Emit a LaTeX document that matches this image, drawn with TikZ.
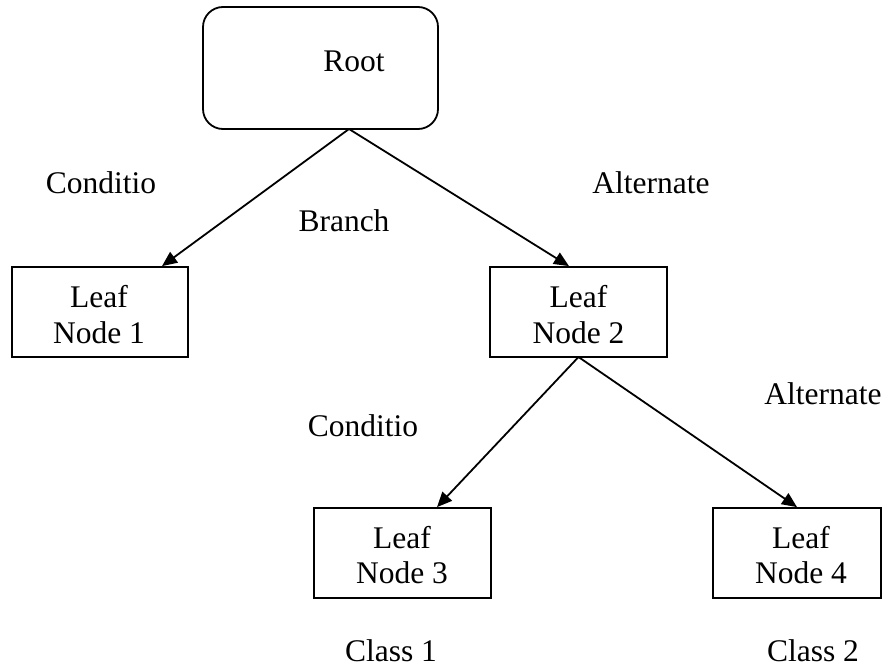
\documentclass[tikz,border=0pt]{standalone}
\usepackage{fontspec}
\setmainfont{Liberation Serif}
\usetikzlibrary{arrows.meta}
\begin{document}
\begin{tikzpicture}[x=1pt,y=-1pt,
  box/.style={draw,line width=1.8pt,inner sep=0pt},
  lbl/.style={anchor=base,inner sep=0pt,font=\fontsize{31.5}{36}\selectfont},
  edge/.style={line width=1.8pt,-{Triangle[length=15pt,width=13pt]}}]
\useasboundingbox (0,0) rectangle (882,669);
\node[box,rounded corners=20pt,minimum width=235pt,minimum height=122pt] (root) at (320.5,68) {};
\node[lbl] (roott) at (354,71) {Root};
\node[box,minimum width=176pt,minimum height=90pt] (l1) at (100,312) {};
\node[lbl] (l1a) at (99,307) {Leaf};
\node[lbl] (l1b) at (99,343) {Node 1};
\node[box,minimum width=177pt,minimum height=90pt] (l2) at (578.5,312) {};
\node[lbl] (l2a) at (578.5,307) {Leaf};
\node[lbl] (l2b) at (578.5,343) {Node 2};
\node[box,minimum width=177pt,minimum height=90pt] (l3) at (402.5,553) {};
\node[lbl] (l3a) at (402,548) {Leaf};
\node[lbl] (l3b) at (402,583) {Node 3};
\node[box,minimum width=168pt,minimum height=90pt] (l4) at (797,553) {};
\node[lbl] (l4a) at (801,548) {Leaf};
\node[lbl] (l4b) at (801,583) {Node 4};
\coordinate (r0) at (349,129);
\coordinate (n2) at (578.5,357);
\draw[edge] (r0) -- (l1.north -| 162,0);
\draw[edge] (r0) -- (l2.north -| 569,0);
\draw[edge] (n2) -- (l3.north -| 437,0);
\draw[edge] (n2) -- (l4.north -| 797,0);
\node[lbl] (c1) at (101,193) {Conditio};
\node[lbl] (b1) at (344,231) {Branch};
\node[lbl] (a1) at (651,193) {Alternate};
\node[lbl] (c2) at (363,436) {Conditio};
\node[lbl] (a2) at (823,404) {Alternate};
\node[lbl] (k1) at (391,661) {Class 1};
\node[lbl] (k2) at (813,661) {Class 2};
\end{tikzpicture}
\end{document}
